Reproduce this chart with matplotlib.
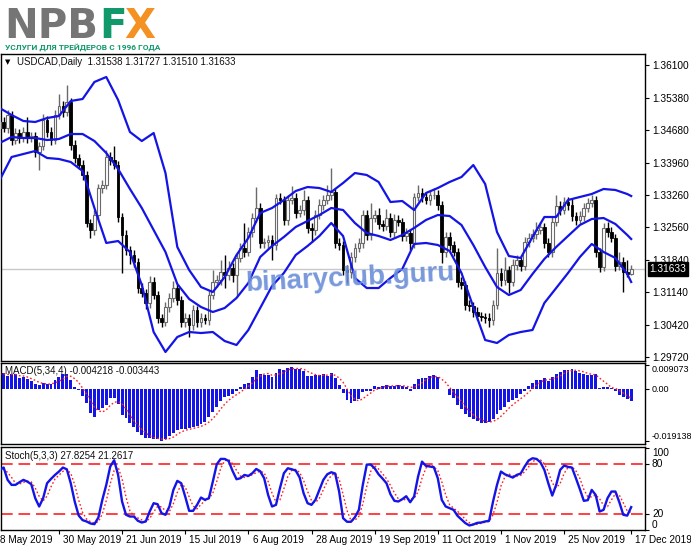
import numpy as np
import pandas as pd
import matplotlib
matplotlib.use("Agg")
import matplotlib.pyplot as plt

plt.rcParams['font.family'] = ['Liberation Sans', 'DejaVu Sans']

# ---------------- data ----------------
title_main = "USDCAD,Daily  1.31538 1.31727 1.31510 1.31633"
title_macd = "MACD(5,34,4) -0.004218 -0.003443"
title_stoch = "Stoch(5,3,3) 27.8254 21.2617"
last_ohlc = [1.31538, 1.31727, 1.31510, 1.31633]
first_open = 1.34720

closes = [
    1.34854, 1.34723, 1.35007, 1.34460, 1.34613, 1.34504, 1.34635, 1.34504, 1.34548, 1.34198,
    1.34329, 1.34898, 1.34635, 1.34460, 1.35007, 1.35204, 1.35073, 1.35291, 1.34351, 1.34067,
    1.33913, 1.33695, 1.32645, 1.32492, 1.32820, 1.33410, 1.33476, 1.34088, 1.34023, 1.33913,
    1.32776, 1.32383, 1.32054, 1.31945, 1.31792, 1.31223, 1.31114, 1.30895, 1.31355, 1.31070,
    1.30567, 1.30480, 1.30808, 1.31005, 1.31223, 1.30961, 1.30480, 1.30567, 1.30414, 1.30742,
    1.30480, 1.30567, 1.30524, 1.31070, 1.31355, 1.31398, 1.31573, 1.31508, 1.31661, 1.31508,
    1.31880, 1.32098, 1.32011, 1.32448, 1.32754, 1.32973, 1.32208, 1.32229, 1.32273, 1.32164,
    1.33192, 1.33148, 1.32711, 1.33148, 1.33192, 1.32864, 1.32929, 1.33148, 1.32536, 1.32492,
    1.32820, 1.33039, 1.33148, 1.33257, 1.33323, 1.32208, 1.32164, 1.31617, 1.31573, 1.31901,
    1.32098, 1.32208, 1.32820, 1.32383, 1.32754, 1.32820, 1.32620, 1.32580, 1.32754, 1.32448,
    1.32711, 1.32667, 1.32361, 1.32426, 1.32208, 1.33214, 1.33301, 1.33214, 1.33148, 1.33257,
    1.33257, 1.33039, 1.32011, 1.32339, 1.32164, 1.32011, 1.31355, 1.31289, 1.30852, 1.30830,
    1.30699, 1.30611, 1.30589, 1.30567, 1.30524, 1.30852, 1.31551, 1.31398, 1.31617, 1.31355,
    1.31727, 1.31836, 1.31705, 1.32229, 1.32317, 1.32404, 1.32492, 1.32558, 1.32208, 1.32011,
    1.32667, 1.33017, 1.32929, 1.33104, 1.33039, 1.32798, 1.32711, 1.32798, 1.32973, 1.33082,
    1.33148, 1.32011, 1.31683, 1.32536, 1.32448, 1.32317, 1.31705, 1.31792, 1.31573, 1.31538,
    1.31633]

wick_up_pips = [
    8, 10, 12, 8, 10, 8, 10, 33, 8, 8,
    8, 12, 8, 10, 10, 26, 10, 37, 8, 10,
    8, 10, 8, 8, 10, 8, 12, 15, 10, 30,
    8, 8, 10, 8, 10, 8, 10, 8, 12, 10,
    8, 8, 12, 10, 15, 8, 8, 10, 8, 12,
    8, 10, 8, 12, 26, 10, 26, 37, 15, 10,
    10, 12, 55, 10, 12, 46, 10, 8, 12, 10,
    8, 12, 8, 10, 26, 10, 10, 22, 8, 10,
    10, 12, 10, 22, 53, 8, 10, 8, 10, 10,
    12, 10, 12, 10, 33, 12, 15, 10, 20, 10,
    12, 10, 8, 10, 8, 8, 18, 10, 10, 12,
    15, 10, 8, 12, 10, 8, 8, 10, 8, 10,
    8, 10, 8, 8, 10, 10, 55, 12, 28, 8,
    12, 10, 8, 12, 10, 12, 18, 10, 8, 10,
    10, 24, 12, 10, 12, 15, 8, 10, 12, 10,
    10, 8, 8, 10, 12, 10, 8, 22, 10, 26,
    9.4]

wick_dn_pips = [
    10, 8, 10, 12, 8, 10, 8, 10, 8, 12,
    40, 8, 10, 10, 8, 8, 10, 8, 10, 12,
    8, 10, 8, 18, 10, 8, 10, 8, 10, 8,
    10, 83, 10, 20, 12, 10, 8, 12, 10, 8,
    10, 12, 8, 10, 8, 10, 10, 12, 26, 10,
    12, 10, 8, 10, 8, 12, 10, 28, 10, 15,
    48, 8, 10, 8, 10, 8, 12, 10, 15, 33,
    10, 8, 12, 10, 8, 10, 8, 10, 12, 26,
    10, 8, 10, 8, 10, 10, 12, 10, 24, 12,
    10, 8, 10, 12, 10, 8, 10, 12, 8, 12,
    10, 8, 12, 10, 15, 10, 8, 10, 8, 10,
    8, 10, 24, 10, 12, 8, 10, 8, 12, 10,
    10, 8, 8, 10, 15, 10, 8, 12, 10, 24,
    8, 10, 12, 8, 10, 8, 10, 8, 12, 10,
    10, 8, 10, 8, 10, 12, 10, 8, 10, 8,
    8, 10, 12, 8, 10, 8, 12, 8, 44, 8,
    2.8]

band_bars = list(range(0, 160, 3)) + [160]
bb_upper = [
    1.35160, 1.35007, 1.34876, 1.34854, 1.34941, 1.34985, 1.35313, 1.35357, 1.35729, 1.35838,
    1.35335, 1.34635, 1.34438, 1.34613, 1.33738, 1.32120, 1.31617, 1.31245, 1.31136, 1.31464,
    1.31945, 1.32317, 1.32864, 1.32973, 1.33148, 1.33345, 1.33432, 1.33410, 1.33323, 1.33520,
    1.33738, 1.33695, 1.33542, 1.33104, 1.33126, 1.32929, 1.33301, 1.33410, 1.33542, 1.33651,
    1.33913, 1.33498, 1.32448, 1.31923, 1.31880, 1.32339, 1.32776, 1.32776, 1.33148, 1.33214,
    1.33279, 1.33389, 1.33367, 1.33279, 1.33235]
bb_middle = [
    1.34395, 1.34526, 1.34504, 1.34504, 1.34460, 1.34482, 1.34591, 1.34591, 1.34438, 1.34176,
    1.33826, 1.33389, 1.32973, 1.32492, 1.32011, 1.31311, 1.30983, 1.30808, 1.30699, 1.30786,
    1.31005, 1.31333, 1.31901, 1.32142, 1.32339, 1.32558, 1.32689, 1.32820, 1.32973, 1.32929,
    1.32645, 1.32426, 1.32361, 1.32273, 1.32383, 1.32536, 1.32711, 1.32820, 1.32798, 1.32601,
    1.32164, 1.31683, 1.31245, 1.31070, 1.31180, 1.31530, 1.31858, 1.32120, 1.32361, 1.32601,
    1.32732, 1.32754, 1.32623, 1.32383, 1.32295]
bb_lower = [
    1.33585, 1.34088, 1.34154, 1.34220, 1.34067, 1.34045, 1.33979, 1.33782, 1.32973, 1.32208,
    1.32251, 1.32011, 1.31289, 1.30261, 1.29824, 1.30152, 1.30261, 1.30239, 1.30261, 1.30064,
    1.29977, 1.30305, 1.30786, 1.31267, 1.31552, 1.31945, 1.32142, 1.32361, 1.32645, 1.32361,
    1.31442, 1.31223, 1.31223, 1.31442, 1.31639, 1.32186, 1.32208, 1.32164, 1.32033, 1.31552,
    1.30808, 1.30086, 1.30021, 1.30196, 1.30261, 1.30305, 1.30895, 1.31223, 1.31552, 1.31901,
    1.32186, 1.32011, 1.31880, 1.31530, 1.31355]

macd_main = [
    0.0055, 0.0061, 0.0049, 0.0055, 0.0055, 0.0043, 0.0045, 0.0040, 0.0030, 0.0018,
    0.0015, 0.0024, 0.0020, 0.0020, 0.0033, 0.0045, 0.0055, 0.0058, 0.0036, 0.0009,
    -0.0001, -0.0026, -0.0051, -0.0089, -0.0101, -0.0076, -0.0070, -0.0058, -0.0033, -0.0033,
    -0.0055, -0.0095, -0.0108, -0.0126, -0.0139, -0.0158, -0.0170, -0.0180, -0.0180, -0.0183,
    -0.0183, -0.0191, -0.0183, -0.0173, -0.0160, -0.0151, -0.0148, -0.0148, -0.0145, -0.0139,
    -0.0135, -0.0130, -0.0120, -0.0101, -0.0083, -0.0064, -0.0043, -0.0030, -0.0026, -0.0018,
    -0.0005, 0.0008, 0.0018, 0.0024, 0.0045, 0.0070, 0.0058, 0.0053, 0.0053, 0.0045,
    0.0061, 0.0074, 0.0070, 0.0080, 0.0083, 0.0074, 0.0074, 0.0068, 0.0049, 0.0049,
    0.0053, 0.0053, 0.0055, 0.0049, 0.0061, 0.0043, 0.0015, -0.0014, -0.0039, -0.0051,
    -0.0045, -0.0035, -0.0010, -0.0005, -0.0005, 0.0011, 0.0008, 0.0014, 0.0015, 0.0011,
    0.0014, 0.0015, 0.0011, 0.0008, -0.0005, 0.0018, 0.0040, 0.0043, 0.0043, 0.0049,
    0.0053, 0.0045, 0.0003, 0.0000, -0.0020, -0.0033, -0.0058, -0.0073, -0.0093, -0.0101,
    -0.0110, -0.0118, -0.0123, -0.0123, -0.0120, -0.0110, -0.0093, -0.0076, -0.0064, -0.0048,
    -0.0039, -0.0033, -0.0018, -0.0005, 0.0011, 0.0024, 0.0033, 0.0036, 0.0043, 0.0030,
    0.0045, 0.0058, 0.0065, 0.0070, 0.0070, 0.0074, 0.0068, 0.0061, 0.0055, 0.0053,
    0.0053, 0.0055, 0.0005, 0.0008, 0.0008, 0.0005, -0.0008, -0.0022, -0.0030, -0.0036,
    -0.004218]

stoch_k = [
    73.1, 76.0, 61.0, 54.9, 54.9, 58.1, 61.0, 58.9, 55.7, 38.7,
    28.6, 38.7, 56.9, 62.2, 67.0, 71.1, 76.0, 73.9, 56.9, 34.7,
    17.7, 12.0, 10.4, 7.9, 7.1, 15.2, 36.7, 54.9, 77.2, 84.9,
    67.0, 34.7, 18.5, 16.4, 16.4, 11.2, 9.1, 10.4, 22.5, 32.6,
    31.4, 20.5, 18.5, 28.6, 48.8, 59.8, 56.9, 40.7, 23.3, 23.3,
    30.6, 39.5, 36.7, 38.7, 59.0, 80.0, 86.5, 86.5, 84.0, 71.9,
    61.8, 63.0, 67.0, 65.8, 69.1, 74.3, 71.5, 63.0, 42.8, 28.6,
    30.6, 50.8, 69.1, 75.1, 73.9, 72.3, 63.8, 44.7, 32.6, 30.6,
    36.7, 48.8, 61.0, 67.8, 70.3, 68.7, 46.8, 14.4, 10.0, 10.0,
    15.6, 24.5, 54.9, 79.6, 79.6, 75.1, 67.8, 62.6, 56.9, 43.6,
    35.5, 34.7, 37.5, 41.1, 33.8, 40.7, 65.0, 83.2, 78.0, 77.2,
    76.4, 63.0, 36.7, 28.6, 26.6, 24.5, 17.2, 12.8, 8.3, 5.5,
    6.7, 8.7, 9.1, 10.4, 11.2, 34.7, 54.9, 71.1, 67.8, 65.8,
    63.8, 67.0, 68.7, 77.2, 84.5, 87.3, 86.5, 82.4, 73.1, 56.9,
    41.9, 54.9, 73.1, 78.4, 76.8, 75.9, 63.0, 49.6, 35.5, 36.3,
    48.8, 42.7, 22.5, 24.5, 38.7, 46.8, 46.8, 33.8, 18.5, 17.5,
    27.8254]

price_ticks = [1.29720, 1.30420, 1.31140, 1.31840, 1.32560, 1.33260, 1.33960, 1.34680, 1.35380, 1.36100]
macd_ticks = [0.009073, 0.0, -0.019138]
macd_tick_labels = ["0.009073", "0.00", "-0.019138"]
stoch_ticks = [0, 20, 80, 100]
stoch_levels = [20, 80]
date_bars = [-1, 15, 31, 47, 63, 79, 95, 111, 127, 143, 160]
date_labels = ["8 May 2019", "30 May 2019", "21 Jun 2019", "15 Jul 2019", "6 Aug 2019",
               "28 Aug 2019", "19 Sep 2019", "11 Oct 2019", "1 Nov 2019", "25 Nov 2019",
               "17 Dec 2019"]

# ---------------- derived series ----------------
n = len(closes)
x = np.arange(n)
c = np.array(closes)
o = np.r_[first_open, c[:-1]]
o[-1] = last_ohlc[0]
c[-1] = last_ohlc[3]
hi = np.maximum(o, c) + np.array(wick_up_pips) * 1e-4
lo = np.minimum(o, c) - np.array(wick_dn_pips) * 1e-4
hi[-1] = last_ohlc[1]
lo[-1] = last_ohlc[2]
macd_signal = pd.Series(macd_main).rolling(4, min_periods=1).mean().values
stoch_d = pd.Series(stoch_k).rolling(3, min_periods=1).mean().values

# ---------------- layout ----------------
W, H = 691, 549
fig = plt.figure(figsize=(W / 100, H / 100), dpi=100)
fig.patch.set_facecolor('white')


def rect(x0, y0, x1, y1):
    return [x0 / W, 1 - y1 / H, (x1 - x0) / W, (y1 - y0) / H]


ax = fig.add_axes(rect(0.5, 54, 645, 361))
ax_m = fig.add_axes(rect(0.5, 363, 645, 444))
ax_s = fig.add_axes(rect(0.5, 447, 645, 530))

XL = (0.2, 163.5)
BLUE = '#1414e6'
TICKFS = 7.3

for a in (ax, ax_m, ax_s):
    a.set_xlim(*XL)
    for s in a.spines.values():
        s.set_color('black')
        s.set_linewidth(1.0)
    a.yaxis.tick_right()
    a.tick_params(axis='y', which='both', length=3, width=0.8, direction='out',
                  labelsize=TICKFS, pad=2, colors='black')
    a.set_facecolor('white')
for a in (ax, ax_m):
    a.set_xticks([])

# ---------------- main chart ----------------
ax.set_ylim(1.29627, 1.36341)
ax.axhline(last_ohlc[3], color='#c8c8c8', lw=1.0, zorder=1)

bull = c >= o
wick_col = np.where(bull, '#6a6a6a', '#000000')
ax.vlines(x, lo, hi, colors=wick_col, lw=1.0, zorder=2)
body_h = np.maximum(np.abs(c - o), 0.00004)
body_b = np.minimum(o, c)
ax.bar(x[bull], body_h[bull], bottom=body_b[bull], width=0.68,
       color='white', edgecolor='#6a6a6a', linewidth=0.8, zorder=3)
ax.bar(x[~bull], body_h[~bull], bottom=body_b[~bull], width=0.68,
       color='black', edgecolor='black', linewidth=0.6, zorder=3)

for band in (bb_upper, bb_middle, bb_lower):
    ax.plot(band_bars, band, color=BLUE, lw=1.6, zorder=4, solid_joinstyle='round')

ax.set_yticks(price_ticks)
ax.set_yticklabels([f"{v:.5f}" for v in price_ticks])

ax.annotate(f"{last_ohlc[3]:.5f}", xy=(1.0, last_ohlc[3]),
            xycoords=('axes fraction', 'data'), xytext=(3.2, 0), textcoords='offset points',
            ha='left', va='center', fontsize=TICKFS, color='white', annotation_clip=False,
            bbox=dict(boxstyle='square,pad=0.18', fc='black', ec='black'), zorder=10)

# watermark
fig.text(350 / W, 1 - 279 / H, "binaryclub.guru", fontsize=20, fontweight='bold',
         color='#6a8ed8', alpha=0.9, rotation=3, ha='center', va='center',
         family=['Liberation Sans', 'DejaVu Sans'], zorder=20)

# ---------------- MACD ----------------
ax_m.set_ylim(-0.02025, 0.00975)
ax_m.bar(x, macd_main, width=0.74, color=BLUE, linewidth=0, zorder=2)
ax_m.plot(x, macd_signal, color='#ff2020', lw=1.0, ls=(0, (1.2, 1.6)), zorder=3)
ax_m.set_yticks(macd_ticks)
ax_m.set_yticklabels(macd_tick_labels)
ax_m.tick_params(axis='y', labelsize=6.5, pad=1.5)
for t, va in zip(ax_m.yaxis.get_major_ticks(), ['top', 'center', 'bottom']):
    t.label2.set_va(va)

# ---------------- Stochastic ----------------
ax_s.set_ylim(0, 101)
for lvl in stoch_levels:
    ax_s.axhline(lvl, color='#ff2020', lw=1.2, ls=(0, (7, 3.5)), zorder=1)
ax_s.plot(x, stoch_d, color='#ff2020', lw=1.0, ls=(0, (1.2, 1.6)), zorder=2)
ax_s.plot(x, stoch_k, color=BLUE, lw=1.7, zorder=3, solid_joinstyle='round')
ax_s.set_yticks(stoch_ticks)
ax_s.set_yticklabels([str(v) for v in stoch_ticks])
for t, va in zip(ax_s.yaxis.get_major_ticks(), ['bottom', 'center', 'center', 'top']):
    t.label2.set_va(va)

in_range = [b for b in date_bars if XL[0] <= b <= XL[1]]
ax_s.set_xticks(in_range)
ax_s.set_xticklabels([])
ax_s.tick_params(axis='x', length=3, width=0.8, direction='out', colors='black')
for b, lab in zip(date_bars, date_labels):
    ax_s.annotate(lab, xy=(b, 0), xycoords=('data', 'axes fraction'),
                  xytext=(3.0, -7.5), textcoords='offset points', ha='left', va='center',
                  fontsize=7.2, color='black', annotation_clip=False)

# ---------------- titles ----------------
fig.text(5 / W, 1 - 62 / H, "\u25BC", fontsize=5, family='DejaVu Sans', va='center', ha='left')
fig.text(17 / W, 1 - 62 / H, title_main, fontsize=7, va='center', ha='left', color='#101010')
fig.text(5 / W, 1 - 371 / H, title_macd, fontsize=7, va='center', ha='left', color='#101010')
fig.text(5 / W, 1 - 456 / H, title_stoch, fontsize=7, va='center', ha='left', color='#101010')

# ---------------- logo ----------------
fig.text(4 / W, 1 - 38 / H, "NPB", fontsize=29, fontweight='bold', family='DejaVu Sans',
         color='#757575', va='baseline', ha='left')
fig.text(99 / W, 1 - 38 / H, "F", fontsize=29, fontweight='bold', family='DejaVu Sans',
         color='#11996b', va='baseline', ha='left')
fig.text(124 / W, 1 - 38 / H, "X", fontsize=29, fontweight='bold', family='DejaVu Sans',
         color='#f39222', va='baseline', ha='left')
fig.text(5 / W, 1 - 50 / H, "УСЛУГИ ДЛЯ ТРЕЙДЕРОВ С 1996 ГОДА", fontsize=6.0,
         fontweight='bold', family=['Roboto', 'DejaVu Sans'],
         color='#11996b', va='baseline', ha='left')

fig.savefig("out.png", dpi=100)
